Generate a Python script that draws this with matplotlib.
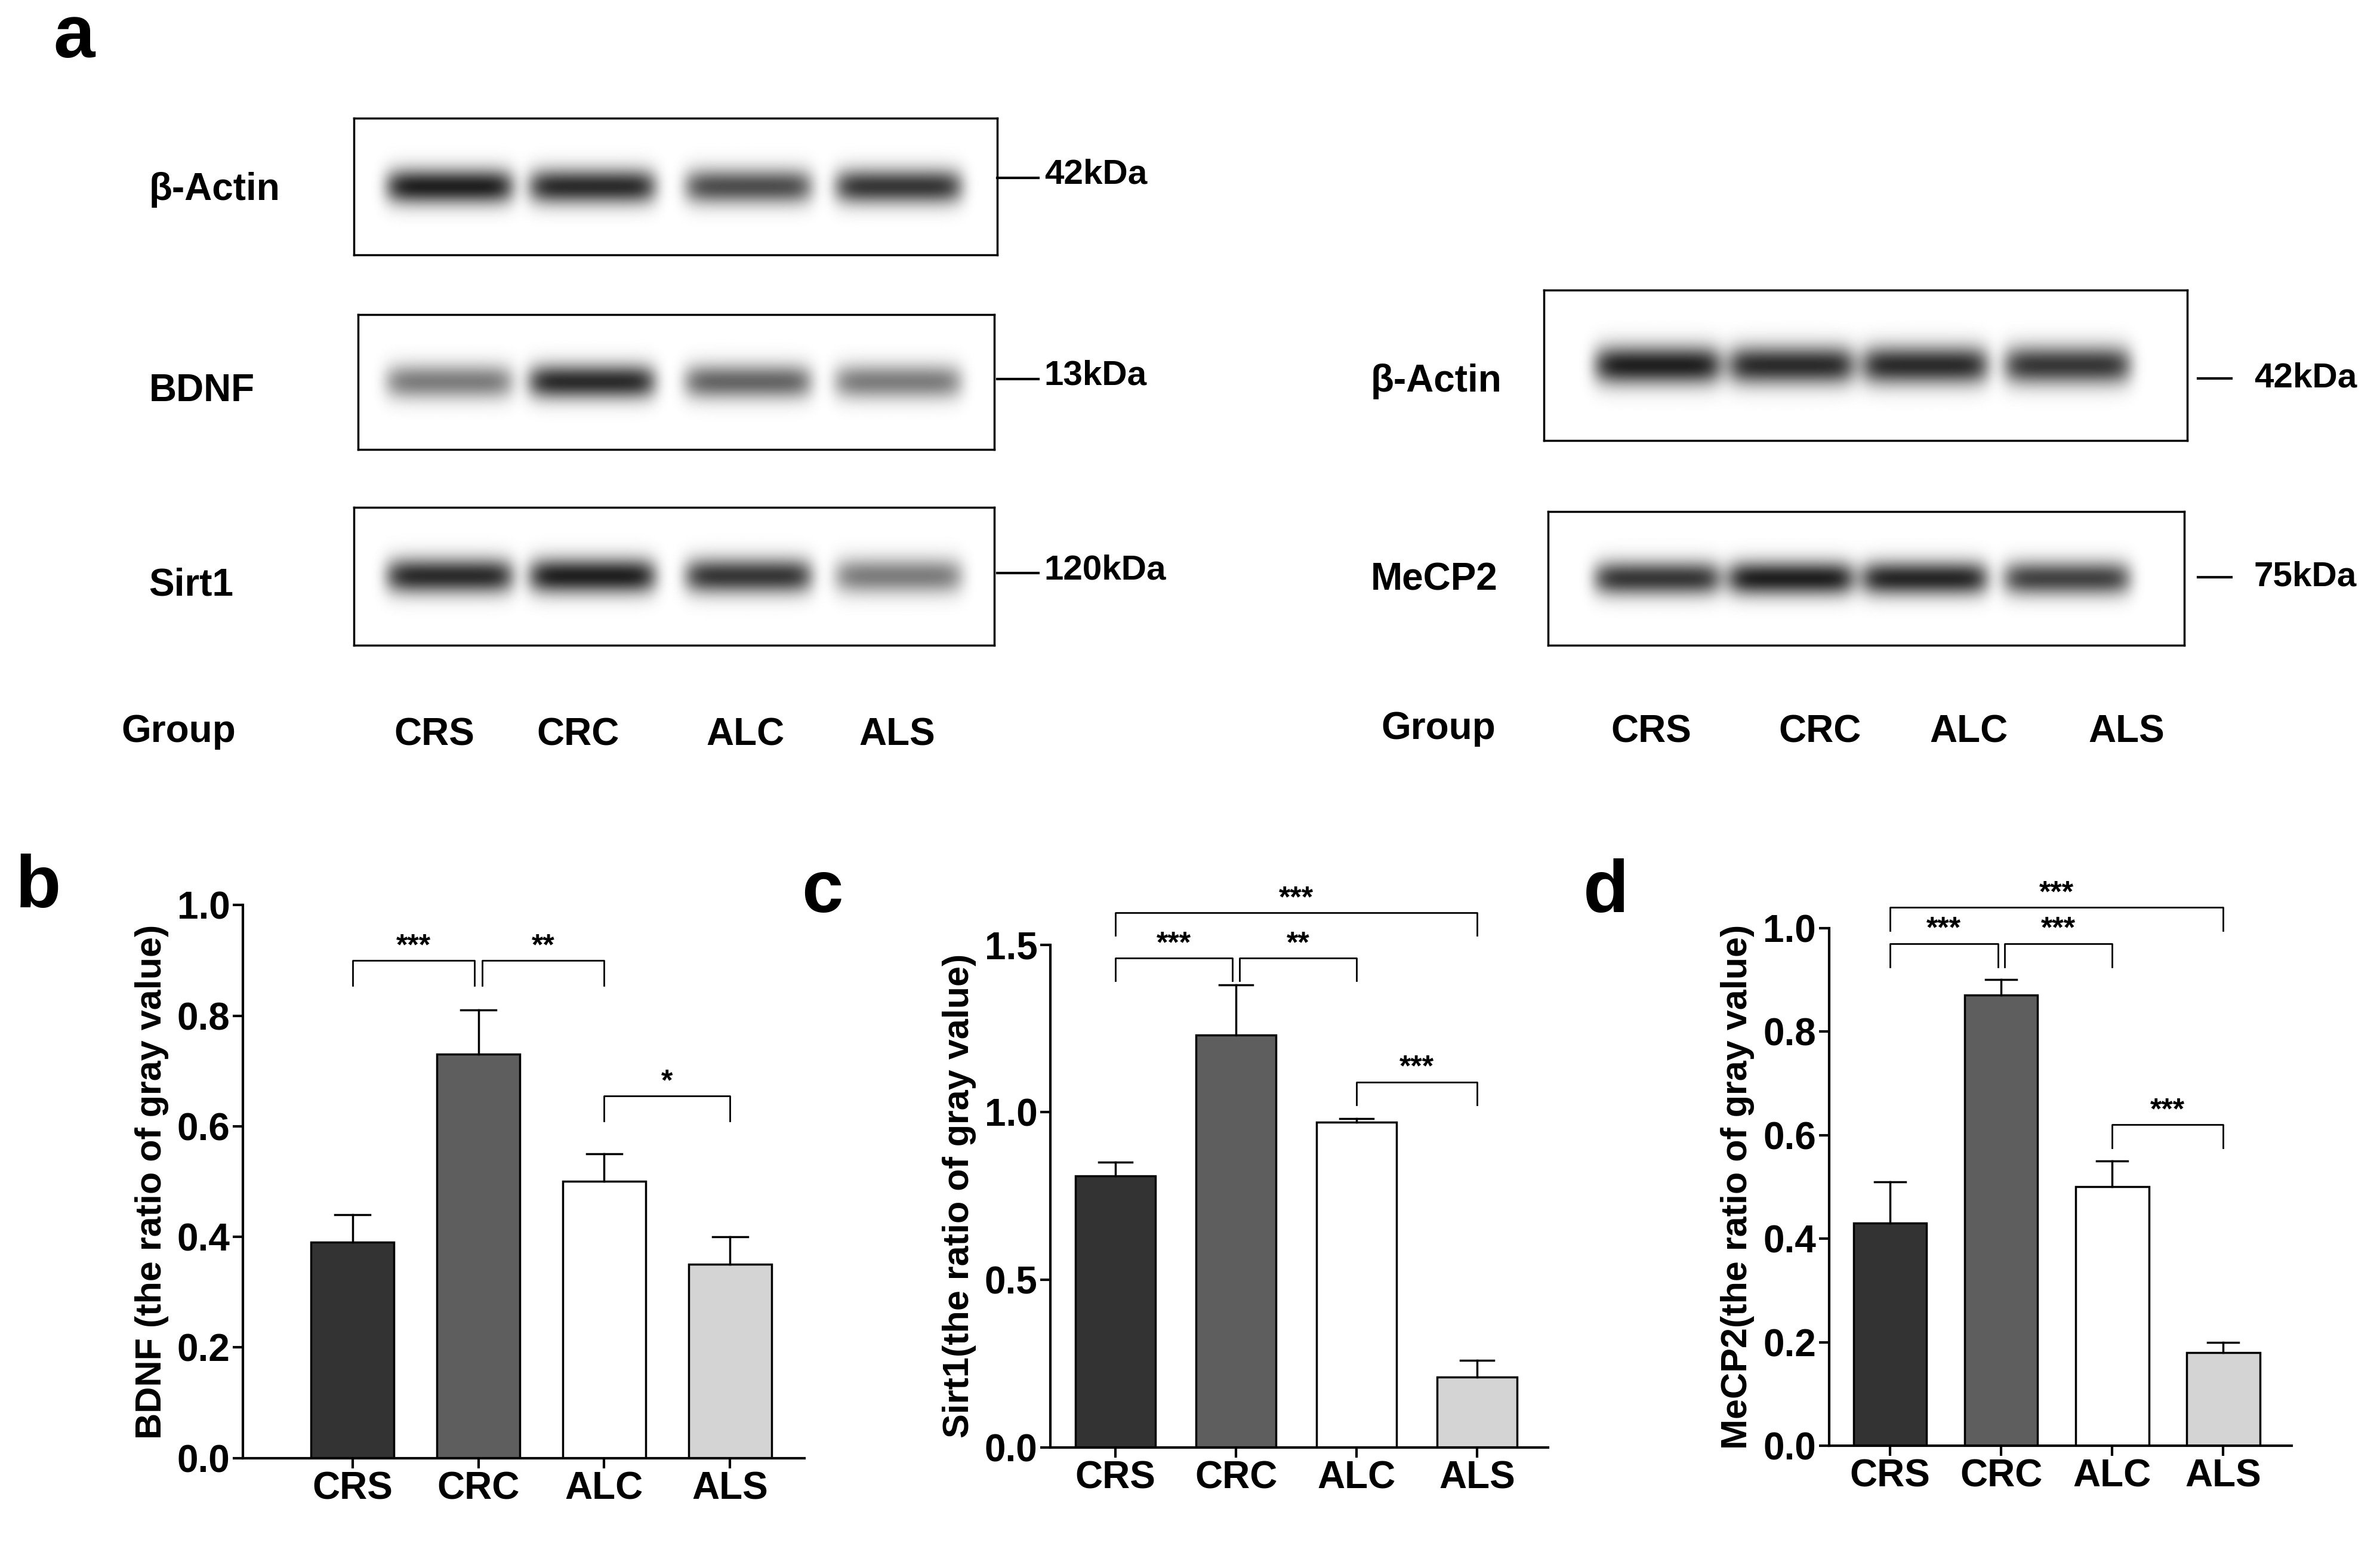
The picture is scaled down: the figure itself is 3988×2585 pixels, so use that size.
import numpy as np
import matplotlib
matplotlib.use("Agg")
import matplotlib.pyplot as plt

plt.rcParams["font.family"] = ["Liberation Sans", "DejaVu Sans"]
plt.rcParams["font.weight"] = "bold"

# ---------------------------------------------------------------------------
# Data
# ---------------------------------------------------------------------------
groups = ["CRS", "CRC", "ALC", "ALS"]
bar_colors = ["#333333", "#5e5e5e", "#ffffff", "#d4d4d4"]

bdnf_mean = [0.39, 0.73, 0.50, 0.35]
bdnf_err = [0.05, 0.08, 0.05, 0.05]
sirt1_mean = [0.81, 1.23, 0.97, 0.21]
sirt1_err = [0.04, 0.15, 0.01, 0.05]
mecp2_mean = [0.43, 0.87, 0.50, 0.18]
mecp2_err = [0.08, 0.03, 0.05, 0.02]

bdnf_sig = [(0, 0.97, 0.90, "***"), (1.03, 2, 0.90, "**"), (2, 3, 0.655, "*")]
sirt1_sig = [(0, 3, 1.595, "***"), (0, 0.97, 1.46, "***"), (1.03, 2, 1.46, "**"), (2, 3, 1.09, "***")]
mecp2_sig = [(0, 3, 1.04, "***"), (0, 0.97, 0.97, "***"), (1.03, 2, 0.97, "***"), (2, 3, 0.62, "***")]

# western blot band darkness per lane (0..1), visual estimates
blot_left = {
    "β-Actin": ([0.95, 0.9, 0.75, 0.85], "42kDa"),
    "BDNF": ([0.55, 0.9, 0.65, 0.55], "13kDa"),
    "Sirt1": ([0.9, 0.95, 0.85, 0.55], "120kDa"),
}
blot_right = {
    "β-Actin": ([0.95, 0.9, 0.9, 0.85], "42kDa"),
    "MeCP2": ([0.85, 0.95, 0.92, 0.8], "75kDa"),
}

W, H = 1568, 1016
fig = plt.figure(figsize=(39.88, 25.85), dpi=100)


def fx(x):
    return x / W


def fy(y):
    return 1 - y / H


def rect(x0, y0, x1, y1):
    return [fx(x0), fy(y1), fx(x1) - fx(x0), fy(y0) - fy(y1)]


def blot(x0, y0, x1, y1, lanes_x, dark):
    ax = fig.add_axes(rect(x0, y0, x1, y1))
    xs = np.linspace(x0, x1, 600)
    ys = np.linspace(0, 1, 100)
    X, Y = np.meshgrid(xs, ys)
    img = np.zeros_like(X)
    for cx, d in zip(lanes_x, dark):
        img += d * np.exp(-((X - cx) / 42) ** 8) * np.exp(-((Y - 0.5) / 0.13) ** 2)
    ax.imshow(1 - np.clip(img, 0, 1) * 0.92, cmap="gray", vmin=0, vmax=1,
              aspect="auto", extent=[x0, x1, 0, 1])
    for s in ax.spines.values():
        s.set_linewidth(2.5)
    ax.set_xticks([])
    ax.set_yticks([])


fig.text(fx(35), fy(25), "a", fontsize=90, ha="left", va="center")

lx = [296, 390, 493, 592]
boxes_l = [(233, 78, 657, 168), (236, 207, 655, 296), (233, 334, 655, 425)]
for (name, (d, kda)), (x0, y0, x1, y1) in zip(blot_left.items(), boxes_l):
    blot(x0, y0, x1, y1, lx, d)
    yc = (y0 + y1) / 2 + (-4 if name == "β-Actin" else 0)
    fig.text(fx(98), fy(yc + 6), name, fontsize=46, ha="left", va="center")
    fig.add_artist(plt.Line2D([fx(657), fx(684)], [fy(yc - 2), fy(yc - 2)], color="black", lw=3))
    fig.text(fx(688), fy(yc - 4), kda, fontsize=42, ha="left", va="center")

rx = [1092, 1180, 1268, 1362]
boxes_r = [(1017, 191, 1441, 290), (1020, 337, 1439, 425)]
for (name, (d, kda)), (x0, y0, x1, y1) in zip(blot_right.items(), boxes_r):
    blot(x0, y0, x1, y1, rx, d)
    yc = {"β-Actin": 251, "MeCP2": 382}[name]
    fig.text(fx(903), fy(yc), name, fontsize=46, ha="left", va="center")
    fig.add_artist(plt.Line2D([fx(1448), fx(1470)], [fy(yc - 2), fy(yc - 2)], color="black", lw=3))
    fig.text(fx(1485), fy(yc - 2), kda, fontsize=42, ha="left", va="center")

fig.text(fx(80), fy(482), "Group", fontsize=46, ha="left", va="center")
for x, g in zip([286, 381, 491, 591], groups):
    fig.text(fx(x), fy(484), g, fontsize=46, ha="center", va="center")
fig.text(fx(910), fy(480), "Group", fontsize=46, ha="left", va="center")
for x, g in zip([1088, 1199, 1297, 1401], groups):
    fig.text(fx(x), fy(482), g, fontsize=46, ha="center", va="center")


def bars(box, means, errs, sig, ylim, yticks, xlim, ylabel, letter, lpos):
    ax = fig.add_axes(rect(*box))
    xs = np.arange(len(groups))
    ax.bar(xs, means, width=0.66, color=bar_colors, edgecolor="black", linewidth=2.5)
    for x, m, e in zip(xs, means, errs):
        ax.plot([x, x], [m, m + e], color="black", lw=2.5)
        ax.plot([x - 0.14, x + 0.14], [m + e, m + e], color="black", lw=2.5)
    tick = (ylim[1] - ylim[0]) * 0.045
    for a, b, y, t in sig:
        ax.plot([a, a, b, b], [y - tick, y, y, y - tick], color="black", lw=2, clip_on=False)
        ax.text((a + b) / 2, y, t, ha="center", va="bottom", fontsize=36, clip_on=False)
    ax.set_xlim(*xlim)
    ax.set_ylim(*ylim)
    ax.set_yticks(yticks)
    ax.set_yticklabels([f"{v:.1f}" for v in yticks])
    ax.set_xticks(xs)
    ax.set_xticklabels(groups)
    ax.tick_params(labelsize=46, width=3, length=12)
    ax.spines["top"].set_visible(False)
    ax.spines["right"].set_visible(False)
    ax.spines["left"].set_linewidth(3)
    ax.spines["bottom"].set_linewidth(3)
    ax.set_ylabel(ylabel, fontsize=44, fontweight="bold", labelpad=10)
    fig.text(fx(lpos[0]), fy(lpos[1]), letter, fontsize=90, ha="left", va="center")


bars((160, 596, 530, 960), bdnf_mean, bdnf_err, bdnf_sig, (0, 1.0),
     [0.0, 0.2, 0.4, 0.6, 0.8, 1.0], (-0.87, 3.59),
     "BDNF (the ratio of gray value)", "b", (10, 585))
bars((692, 622, 1020, 953), sirt1_mean, sirt1_err, sirt1_sig, (0, 1.5),
     [0.0, 0.5, 1.0, 1.5], (-0.54, 3.59),
     "Sirt1(the ratio of gray value)", "c", (528, 588))
bars((1205, 611, 1510, 952), mecp2_mean, mecp2_err, mecp2_sig, (0, 1.0),
     [0.0, 0.2, 0.4, 0.6, 0.8, 1.0], (-0.55, 3.62),
     "MeCP2(the ratio of gray value)", "d", (1043, 588))

fig.savefig("out.png", dpi=100)
